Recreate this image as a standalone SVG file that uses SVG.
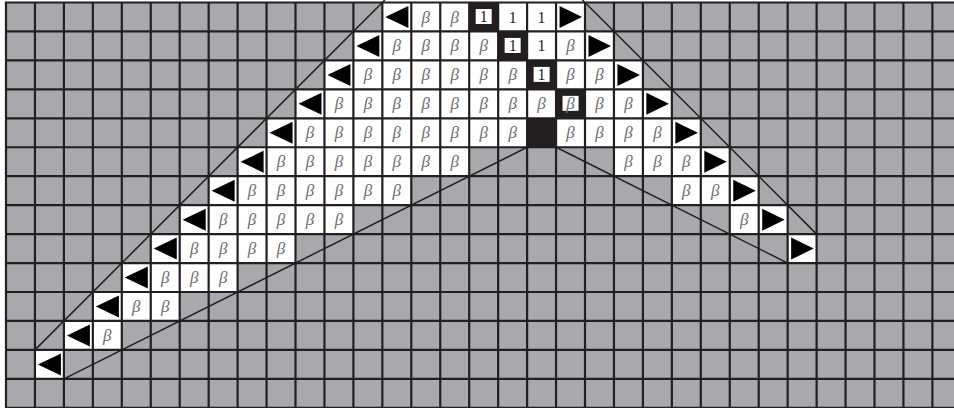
<svg xmlns="http://www.w3.org/2000/svg" width="954" height="408" viewBox="0 0 954 408">
<style>
.w{fill:#fff}
.k{fill:#231f20}
.tri{fill:#000}
.beta{font-family:"Liberation Serif","DejaVu Serif",serif;font-style:italic;font-size:17px;fill:#6d6e71;text-anchor:middle}
.one{font-family:"Liberation Serif","DejaVu Serif",serif;font-size:16px;fill:#231f20;text-anchor:middle}
.grid{stroke:#231f20;stroke-width:2.2;fill:none}
.conn{stroke:#231f20;stroke-width:1.5;fill:none}
</style>
<defs>
<g id="b"><rect class="w" width="28.95" height="28.95"/><text class="beta" x="14.5" y="20">β</text></g>
<g id="o"><rect class="w" width="28.95" height="28.95"/><text class="one" x="14.5" y="20">1</text></g>
<g id="L"><rect class="w" width="28.95" height="28.95"/><polygon class="tri" points="3,14.5 26,3.5 26,25.5"/></g>
<g id="R"><rect class="w" width="28.95" height="28.95"/><polygon class="tri" points="3.5,3.5 26,14.5 3.5,25.5"/></g>
<g id="K"><rect class="k" width="28.95" height="28.95"/></g>
<g id="K1"><rect class="k" width="28.95" height="28.95"/><rect class="w" x="6.5" y="6.5" width="16" height="15"/><text class="one" x="14.5" y="19.5">1</text></g>
<g id="KB"><rect class="k" width="28.95" height="28.95"/><rect class="w" x="6.5" y="6.5" width="16" height="15"/><text class="beta" x="14.5" y="19.5">β</text></g>
</defs>
<rect width="954" height="408" fill="#fff"/>
<rect x="6" y="2.5" width="948" height="406" fill="#a8a9ad"/>
<g id="row0">
<use href="#L" x="382.35" y="2.5"/><use href="#b" x="411.3" y="2.5"/><use href="#b" x="440.25" y="2.5"/><use href="#K1" x="469.2" y="2.5"/><use href="#o" x="498.15" y="2.5"/><use href="#o" x="527.1" y="2.5"/><use href="#R" x="556.05" y="2.5"/>
</g>
<g id="row1">
<use href="#L" x="353.4" y="31.45"/><use href="#b" x="382.35" y="31.45"/><use href="#b" x="411.3" y="31.45"/><use href="#b" x="440.25" y="31.45"/><use href="#b" x="469.2" y="31.45"/><use href="#K1" x="498.15" y="31.45"/><use href="#o" x="527.1" y="31.45"/><use href="#b" x="556.05" y="31.45"/><use href="#R" x="585" y="31.45"/>
</g>
<g id="row2">
<use href="#L" x="324.45" y="60.4"/><use href="#b" x="353.4" y="60.4"/><use href="#b" x="382.35" y="60.4"/><use href="#b" x="411.3" y="60.4"/><use href="#b" x="440.25" y="60.4"/><use href="#b" x="469.2" y="60.4"/><use href="#b" x="498.15" y="60.4"/><use href="#K1" x="527.1" y="60.4"/><use href="#b" x="556.05" y="60.4"/><use href="#b" x="585" y="60.4"/><use href="#R" x="613.95" y="60.4"/>
</g>
<g id="row3">
<use href="#L" x="295.5" y="89.35"/><use href="#b" x="324.45" y="89.35"/><use href="#b" x="353.4" y="89.35"/><use href="#b" x="382.35" y="89.35"/><use href="#b" x="411.3" y="89.35"/><use href="#b" x="440.25" y="89.35"/><use href="#b" x="469.2" y="89.35"/><use href="#b" x="498.15" y="89.35"/><use href="#b" x="527.1" y="89.35"/><use href="#KB" x="556.05" y="89.35"/><use href="#b" x="585" y="89.35"/><use href="#b" x="613.95" y="89.35"/><use href="#R" x="642.9" y="89.35"/>
</g>
<g id="row4">
<use href="#L" x="266.55" y="118.3"/><use href="#b" x="295.5" y="118.3"/><use href="#b" x="324.45" y="118.3"/><use href="#b" x="353.4" y="118.3"/><use href="#b" x="382.35" y="118.3"/><use href="#b" x="411.3" y="118.3"/><use href="#b" x="440.25" y="118.3"/><use href="#b" x="469.2" y="118.3"/><use href="#b" x="498.15" y="118.3"/><use href="#K" x="527.1" y="118.3"/><use href="#b" x="556.05" y="118.3"/><use href="#b" x="585" y="118.3"/><use href="#b" x="613.95" y="118.3"/><use href="#b" x="642.9" y="118.3"/><use href="#R" x="671.85" y="118.3"/>
</g>
<g id="row5">
<use href="#L" x="237.6" y="147.25"/><use href="#b" x="266.55" y="147.25"/><use href="#b" x="295.5" y="147.25"/><use href="#b" x="324.45" y="147.25"/><use href="#b" x="353.4" y="147.25"/><use href="#b" x="382.35" y="147.25"/><use href="#b" x="411.3" y="147.25"/><use href="#b" x="440.25" y="147.25"/><use href="#b" x="613.95" y="147.25"/><use href="#b" x="642.9" y="147.25"/><use href="#b" x="671.85" y="147.25"/><use href="#R" x="700.8" y="147.25"/>
</g>
<g id="row6">
<use href="#L" x="208.65" y="176.2"/><use href="#b" x="237.6" y="176.2"/><use href="#b" x="266.55" y="176.2"/><use href="#b" x="295.5" y="176.2"/><use href="#b" x="324.45" y="176.2"/><use href="#b" x="353.4" y="176.2"/><use href="#b" x="382.35" y="176.2"/><use href="#b" x="671.85" y="176.2"/><use href="#b" x="700.8" y="176.2"/><use href="#R" x="729.75" y="176.2"/>
</g>
<g id="row7">
<use href="#L" x="179.7" y="205.15"/><use href="#b" x="208.65" y="205.15"/><use href="#b" x="237.6" y="205.15"/><use href="#b" x="266.55" y="205.15"/><use href="#b" x="295.5" y="205.15"/><use href="#b" x="324.45" y="205.15"/><use href="#b" x="729.75" y="205.15"/><use href="#R" x="758.7" y="205.15"/>
</g>
<g id="row8">
<use href="#L" x="150.75" y="234.1"/><use href="#b" x="179.7" y="234.1"/><use href="#b" x="208.65" y="234.1"/><use href="#b" x="237.6" y="234.1"/><use href="#b" x="266.55" y="234.1"/><use href="#R" x="787.65" y="234.1"/>
</g>
<g id="row9">
<use href="#L" x="121.8" y="263.05"/><use href="#b" x="150.75" y="263.05"/><use href="#b" x="179.7" y="263.05"/><use href="#b" x="208.65" y="263.05"/>
</g>
<g id="row10">
<use href="#L" x="92.85" y="292"/><use href="#b" x="121.8" y="292"/><use href="#b" x="150.75" y="292"/>
</g>
<g id="row11">
<use href="#L" x="63.9" y="320.95"/><use href="#b" x="92.85" y="320.95"/>
</g>
<g id="row12">
<use href="#L" x="34.95" y="349.9"/>
</g>
<path id="grid" class="grid" d="M6 1.4V408M34.95 1.4V408M63.9 1.4V408M92.85 1.4V408M121.8 1.4V408M150.75 1.4V408M179.7 1.4V408M208.65 1.4V408M237.6 1.4V408M266.55 1.4V408M295.5 1.4V408M324.45 1.4V408M353.4 1.4V408M382.35 1.4V408M411.3 1.4V408M440.25 1.4V408M469.2 1.4V408M498.15 1.4V408M527.1 1.4V408M556.05 1.4V408M585 1.4V408M613.95 1.4V408M642.9 1.4V408M671.85 1.4V408M700.8 1.4V408M729.75 1.4V408M758.7 1.4V408M787.65 1.4V408M816.6 1.4V408M845.55 1.4V408M874.5 1.4V408M903.45 1.4V408M932.4 1.4V408M4.9 2.5H954M4.9 31.45H954M4.9 60.4H954M4.9 89.35H954M4.9 118.3H954M4.9 147.25H954M4.9 176.2H954M4.9 205.15H954M4.9 234.1H954M4.9 263.05H954M4.9 292H954M4.9 320.95H954M4.9 349.9H954M4.9 378.85H954M4.9 407.8H954"/>
<g id="connectors">
<line class="conn" x1="34.95" y1="349.9" x2="384.85" y2="0"/>
<line class="conn" x1="63.9" y1="378.85" x2="527.1" y2="147.25"/>
<line class="conn" x1="556.05" y1="147.25" x2="787.65" y2="263.05"/>
<line class="conn" x1="582.5" y1="0" x2="816.6" y2="234.1"/>
</g>
</svg>
